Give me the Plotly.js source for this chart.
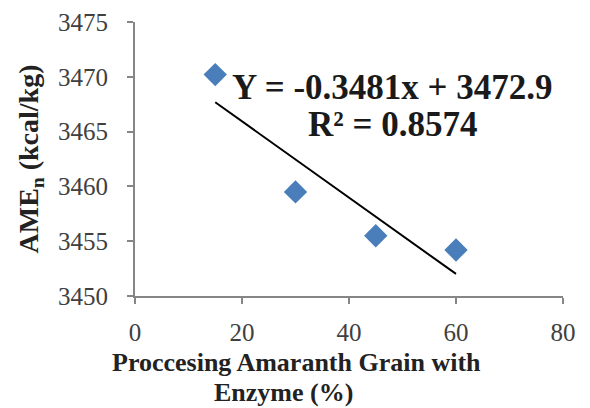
<!DOCTYPE html>
<html>
<head>
<meta charset="utf-8">
<script src="https://cdn.plot.ly/plotly-3.0.1.min.js"></script>
<style>html,body{margin:0;padding:0;background:#fff;}#chart{width:590px;height:408px;}</style>
</head>
<body>
<div id="chart"></div>
<script>
// Data
const enzymePct = [15, 30, 45, 60];
const ameN = [3470.2, 3459.5, 3455.5, 3454.2];
const trendSlope = -0.3481;
const trendIntercept = 3472.9;
const xTicks = [0, 20, 40, 60, 80];
const yTicks = [3450, 3455, 3460, 3465, 3470, 3475];
const eqLine = "Y = -0.3481x + 3472.9";
const r2Line = "R² = 0.8574";
const xTitleLines = ["Proccesing Amaranth Grain with", "Enzyme (%)"];

const xMin = Math.min(...enzymePct), xMax = Math.max(...enzymePct);
const trendX = [xMin, xMax];
const trendY = trendX.map(x => trendSlope * x + trendIntercept);

const serif = "Liberation Serif";
const axisCol = "#868686";
const L = 135, T = 22, W = 428, H = 274;
const px = x => (x - L) / W, py = y => 1 - (y - T) / H;

const data = [
  {x: trendX, y: trendY, mode: "lines", type: "scatter",
   line: {color: "#000000", width: 2}, hoverinfo: "skip", showlegend: false},
  {x: enzymePct, y: ameN, mode: "markers", type: "scatter",
   marker: {symbol: "diamond", size: 18, color: "#4A7EBB"}, showlegend: false}
];

const layout = {
  width: 590, height: 408,
  margin: {l: L, r: 590 - L - W, t: T, b: 408 - T - H},
  paper_bgcolor: "#ffffff", plot_bgcolor: "#ffffff",
  font: {family: serif, size: 25, color: "#404040"},
  xaxis: {
    range: [0, 80], tickvals: xTicks, ticktext: xTicks.map(String),
    showgrid: false, zeroline: false, showline: true, linecolor: axisCol, linewidth: 2,
    ticks: "outside", ticklen: 6, tickcolor: axisCol, tickwidth: 2,
    ticklabelstandoff: 7,
    tickfont: {family: serif, size: 25, color: "#404040"}
  },
  yaxis: {
    range: [3450, 3475], tickvals: yTicks, ticktext: yTicks.map(String),
    showgrid: false, zeroline: false, showline: true, linecolor: axisCol, linewidth: 2,
    ticks: "outside", ticklen: 6, tickcolor: axisCol, tickwidth: 2,
    ticklabelstandoff: 14,
    tickfont: {family: serif, size: 25, color: "#404040"},
    title: {text: "<b>AME<sub>n</sub> (kcal/kg)</b>", font: {family: serif, size: 28, color: "#222222"}, standoff: 11}
  },
  annotations: [
    {xref: "paper", yref: "paper", x: px(296), y: py(362), xanchor: "center", yanchor: "middle",
     text: "<b>" + xTitleLines[0] + "</b>", showarrow: false,
     font: {family: serif, size: 26, color: "#222222"}},
    {xref: "paper", yref: "paper", x: px(283), y: py(392), xanchor: "center", yanchor: "middle",
     text: "<b>" + xTitleLines[1] + "</b>", showarrow: false,
     font: {family: serif, size: 26, color: "#222222"}},
    {xref: "paper", yref: "paper", x: px(392), y: py(87), xanchor: "center", yanchor: "middle",
     text: "<b>" + eqLine + "</b>", showarrow: false,
     font: {family: serif, size: 35, color: "#1a1a1a"}},
    {xref: "paper", yref: "paper", x: px(392), y: py(124), xanchor: "center", yanchor: "middle",
     text: "<b>" + r2Line + "</b>", showarrow: false,
     font: {family: serif, size: 35, color: "#1a1a1a"}}
  ]
};

Plotly.newPlot("chart", data, layout, {displayModeBar: false, staticPlot: true});
</script>
</body>
</html>
